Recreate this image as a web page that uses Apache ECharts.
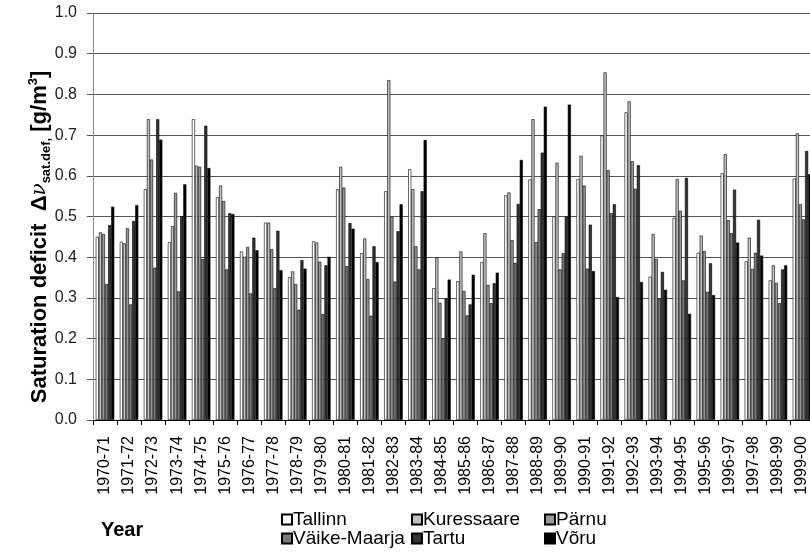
<!DOCTYPE html>
<html>
<head>
<meta charset="utf-8">
<script src="https://cdn.jsdelivr.net/npm/echarts@6/dist/echarts.min.js"></script>
<style>
  html, body { margin: 0; padding: 0; background: #fff; }
  #main { width: 810px; height: 558px; }
</style>
</head>
<body>
<div id="main"></div>
<script>
var years = ['1970-71','1971-72','1972-73','1973-74','1974-75','1975-76','1976-77','1977-78','1978-79','1979-80',
             '1980-81','1981-82','1982-83','1983-84','1984-85','1985-86','1986-87','1987-88','1988-89','1989-90',
             '1990-91','1991-92','1992-93','1993-94','1994-95','1995-96','1996-97','1997-98','1998-99','1999-00'];

var tallinn     = [0.450,0.438,0.567,0.437,0.739,0.547,0.414,0.485,0.351,0.439,0.567,0.410,0.562,0.616,0.324,0.341,0.388,0.552,0.591,0.500,0.592,0.699,0.756,0.352,0.497,0.411,0.606,0.390,0.343,0.593];
var kuressaare  = [0.461,0.434,0.739,0.476,0.625,0.576,0.401,0.485,0.365,0.436,0.622,0.446,0.835,0.567,0.399,0.414,0.459,0.559,0.739,0.632,0.649,0.854,0.783,0.457,0.592,0.453,0.653,0.448,0.380,0.704];
var parnu       = [0.457,0.471,0.640,0.558,0.622,0.538,0.425,0.420,0.334,0.389,0.571,0.346,0.499,0.427,0.288,0.317,0.332,0.442,0.437,0.370,0.576,0.614,0.636,0.396,0.514,0.415,0.491,0.371,0.337,0.530];
var vaikeMaarja = [0.334,0.284,0.374,0.316,0.396,0.370,0.311,0.324,0.271,0.260,0.378,0.256,0.340,0.370,0.199,0.257,0.287,0.386,0.518,0.410,0.372,0.508,0.568,0.298,0.343,0.315,0.459,0.411,0.287,0.493];
var tartu       = [0.479,0.489,0.739,0.501,0.723,0.508,0.448,0.465,0.393,0.380,0.484,0.427,0.464,0.562,0.299,0.284,0.336,0.531,0.657,0.500,0.480,0.530,0.626,0.364,0.595,0.385,0.566,0.492,0.370,0.661];
var voru        = [0.524,0.528,0.689,0.579,0.619,0.506,0.417,0.368,0.372,0.401,0.470,0.388,0.530,0.688,0.345,0.357,0.362,0.639,0.770,0.775,0.366,0.302,0.339,0.320,0.261,0.307,0.436,0.404,0.380,0.604];

var yTicks = ['0.0','0.1','0.2','0.3','0.4','0.5','0.6','0.7','0.8','0.9','1.0'];

var seriesNames  = ['Tallinn','Kuressaare','Pärnu','Väike-Maarja','Tartu','Võru'];
var seriesData   = [tallinn, kuressaare, parnu, vaikeMaarja, tartu, voru];
var seriesColors = ['#ffffff','#c0c0c0','#999999','#7a7a7a','#333333','#000000'];

// legend: two rows of three columns
var legendPos = [[281,510],[411,510],[544,510],[281,529],[411,529],[544,529]];

var chart = echarts.init(document.getElementById('main'));

var series = seriesNames.map(function (n, i) {
    return {
        name: n,
        type: 'bar',
        data: seriesData[i],
        barGap: '0%',
        barCategoryGap: '23%',
        itemStyle: { color: seriesColors[i], borderColor: '#000', borderWidth: 0.6 },
        emphasis: { disabled: true }
    };
});

var legends = seriesNames.map(function (n, i) {
    return {
        data: [n],
        left: legendPos[i][0],
        top: legendPos[i][1],
        padding: 0,
        itemWidth: 10,
        itemHeight: 10,
        itemGap: 0,
        icon: 'rect',
        textStyle: { fontFamily: 'Liberation Sans', fontSize: 19, color: '#000', padding: [0, 0, 0, -4] }
    };
});

var option = {
    animation: false,
    backgroundColor: '#fff',
    legend: legends,
    grid: { left: 93, top: 13, width: 721, height: 407, outerBoundsMode: 'none' },
    xAxis: {
        type: 'category',
        data: years,
        axisLine: { lineStyle: { color: '#000', width: 1 } },
        axisTick: { show: true, length: 5, lineStyle: { color: '#000' } },
        axisLabel: {
            rotate: 90, interval: 0, margin: 16,
            fontFamily: 'Liberation Sans', fontSize: 16, color: '#000'
        },
        splitLine: { show: false }
    },
    yAxis: {
        type: 'value',
        min: 0, max: 1, interval: 0.1,
        axisLine: { show: true, lineStyle: { color: '#888', width: 1 } },
        axisTick: { show: true, length: 6, lineStyle: { color: '#555' } },
        axisLabel: {
            margin: 16,
            fontFamily: 'Liberation Sans', fontSize: 16, color: '#222',
            formatter: function (v) { return yTicks[Math.round(v * 10)]; }
        },
        splitLine: { show: true, lineStyle: { color: '#555', width: 1 } }
    },
    graphic: [{
        type: 'text',
        x: 40,
        y: 237,
        rotation: Math.PI / 2,
        style: {
            text: '{t|Saturation deficit  Δ}{v|ν}{s|sat.def,}{t| [g/m}{p|3}{t|]}',
            align: 'center',
            verticalAlign: 'middle',
            rich: {
                t: { fontFamily: 'Liberation Sans', fontWeight: 'bold', fontSize: 22, fill: '#000', lineHeight: 26 },
                v: { fontFamily: 'DejaVu Serif', fontStyle: 'italic', fontSize: 20, fill: '#000', lineHeight: 26 },
                s: { fontFamily: 'Liberation Sans', fontWeight: 'bold', fontSize: 13, fill: '#000', lineHeight: 26, verticalAlign: 'bottom', padding: [7, 0, 0, 0] },
                p: { fontFamily: 'Liberation Sans', fontWeight: 'bold', fontSize: 13, fill: '#000', lineHeight: 26, verticalAlign: 'top', padding: [0, 0, 9, 0] }
            }
        }
    }, {
        type: 'text',
        left: 101,
        top: 520,
        style: { text: 'Year', font: 'bold 20px "Liberation Sans"', fill: '#000' }
    }],
    series: series
};

chart.setOption(option);
</script>
</body>
</html>
